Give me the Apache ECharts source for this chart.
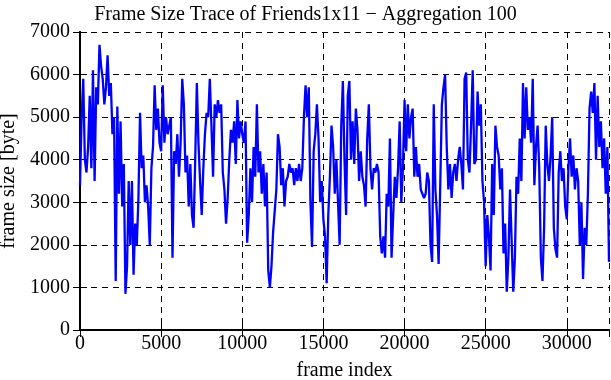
<!DOCTYPE html>
<html>
<head>
<meta charset="utf-8">
<script src="https://cdn.jsdelivr.net/npm/echarts@6/dist/echarts.min.js"></script>
<style>html,body{margin:0;padding:0;background:#fff;}#c{width:611px;height:380px;}</style>
</head>
<body>
<div id="c"></div>
<script>
const titleText = "Frame Size Trace of Friends1x11 \u2212 Aggregation 100";
const xName = "frame index";
const yName = "frame size [byte]";
const aggregation = 100; // frames per aggregated sample
const xTicks = [0, 5000, 10000, 15000, 20000, 25000, 30000];
const yTicks = [0, 1000, 2000, 3000, 4000, 5000, 6000, 7000];
const frameSizes = [
 3400,5000,5900,4000,3700,4300,5500,3800,6100,3500,
 5700,5300,6700,6200,5900,5300,5700,6450,5500,5800,
 4600,5000,1150,5250,3200,4900,2900,3900,850,1500,
 3500,2000,3500,1300,2500,2000,3100,5100,3800,4100,
 3000,3400,2900,2000,3800,4300,5750,4700,5200,4400,
 4200,5750,4400,5000,4600,4800,5000,1700,4200,3900,
 4600,3600,4400,5900,5300,3700,4100,2900,3900,2700,
 2400,4000,5800,4400,3500,2700,3800,4600,5100,5000,
 5900,4800,3600,5300,5000,5400,5100,5300,3700,3300,
 2500,3100,4000,4700,4400,4900,3900,5400,4500,4900,
 4600,4400,4900,2050,2700,3800,3000,4300,3600,5300,
 3700,4200,3200,3900,2900,3700,1400,1000,1500,2300,
 2800,3300,4600,4300,3400,3800,2900,3500,3600,3900,
 3700,3800,3400,3800,3500,3900,3500,3800,5000,5750,
 5000,5700,3000,1950,4200,4600,5300,4500,3000,3500,
 2600,2200,1100,2700,3600,4800,4300,3200,4000,3000,
 2000,4800,5850,4000,2700,5500,5850,4000,4900,3900,
 5200,4700,3500,4200,3600,3400,2900,4500,5300,3800,
 3300,3800,3700,3900,3700,2200,1800,2200,1700,3200,
 2900,4500,1700,2700,3600,3100,3800,4900,3000,3800,
 5400,4200,5300,4500,5000,5200,3600,4300,3600,3900,
 3300,3200,3100,3200,3700,3500,2000,1600,5300,3300,
 2700,1550,3400,5300,5700,6000,4300,3300,3900,3100,
 3700,3900,3500,4000,4300,3900,3300,5900,6050,4000,
 3700,4800,6100,3900,4000,5600,4800,5300,3500,3000,
 1500,2700,2200,1400,3900,2700,4800,4300,4100,3300,
 3800,1800,2500,900,1700,3300,2100,900,1700,3600,
 3200,4500,3500,5800,4500,5700,4700,5000,4400,5900,
 3400,4300,4800,3800,1700,1150,2400,4800,3900,3500,
 4100,5000,2400,1900,1700,3700,4200,3500,3800,2900,
 2600,3800,4500,3600,4100,3300,3800,3500,2000,3000,
 1200,2400,2000,3200,5200,5600,5100,5800,4000,5500,
 4300,4900,3800,4500,3200,4300,1600
];
const seriesData = frameSizes.map((v, i) => [i * aggregation, v]);
const xMax = (frameSizes.length - 1) * aggregation;

const font = "'Liberation Serif', 'DejaVu Serif', serif";
const fs = 20;
const gridLine = {show: true, lineStyle: {color: '#000', type: [6, 5], width: 1}};
const chart = echarts.init(document.getElementById('c'), null, {renderer: 'canvas'});
chart.setOption({
  animation: false,
  backgroundColor: '#fff',
  textStyle: {fontFamily: font, color: '#000'},
  title: {
    text: titleText, left: 'center', top: 0,
    textStyle: {fontFamily: font, fontSize: fs, fontWeight: 'normal', color: '#000'}
  },
  grid: {left: 80, right: 2, top: 32, bottom: 50, containLabel: false, outerBoundsMode: 'none'},
  xAxis: [{
    type: 'value', min: 0, max: xMax, interval: 5000,
    name: xName, nameLocation: 'middle', nameGap: 31,
    nameTextStyle: {fontFamily: font, fontSize: fs, color: '#000'},
    axisLine: {show: true, lineStyle: {color: '#000', width: 2}},
    axisTick: {show: true, inside: true, length: 7, lineStyle: {color: '#000', width: 1}},
    axisLabel: {fontFamily: font, fontSize: fs, color: '#000', margin: 4, showMaxLabel: false,
      formatter: v => xTicks.includes(v) ? String(v) : ''},
    splitLine: gridLine
  }, {
    type: 'value', position: 'top', min: 0, max: xMax, interval: 5000,
    axisLine: {show: true, lineStyle: {color: '#000', width: 2}},
    axisTick: {show: true, inside: true, length: 7, lineStyle: {color: '#000', width: 1}},
    axisLabel: {show: false}, splitLine: {show: false}
  }],
  yAxis: [{
    type: 'value', min: 0, max: 7000, interval: 1000,
    name: yName, nameLocation: 'middle', nameGap: 56, nameRotate: 90,
    nameTextStyle: {fontFamily: font, fontSize: fs, color: '#000'},
    axisLine: {show: true, lineStyle: {color: '#000', width: 2}},
    axisTick: {show: true, inside: true, length: 7, lineStyle: {color: '#000', width: 1}},
    axisLabel: {fontFamily: font, fontSize: fs, color: '#000', margin: 10,
      formatter: v => yTicks.includes(v) ? String(v) : ''},
    splitLine: gridLine
  }, {
    type: 'value', position: 'right', min: 0, max: 7000, interval: 1000,
    axisLine: {show: true, lineStyle: {color: '#000', width: 2}},
    axisTick: {show: true, inside: true, length: 7, lineStyle: {color: '#000', width: 1}},
    axisLabel: {show: false}, splitLine: {show: false}
  }],
  series: [{
    type: 'line', data: seriesData, xAxisIndex: 0, yAxisIndex: 0,
    showSymbol: false, symbol: 'none',
    lineStyle: {color: '#0000ff', width: 2.3},
    z: 5
  }]
});
</script>
</body>
</html>
